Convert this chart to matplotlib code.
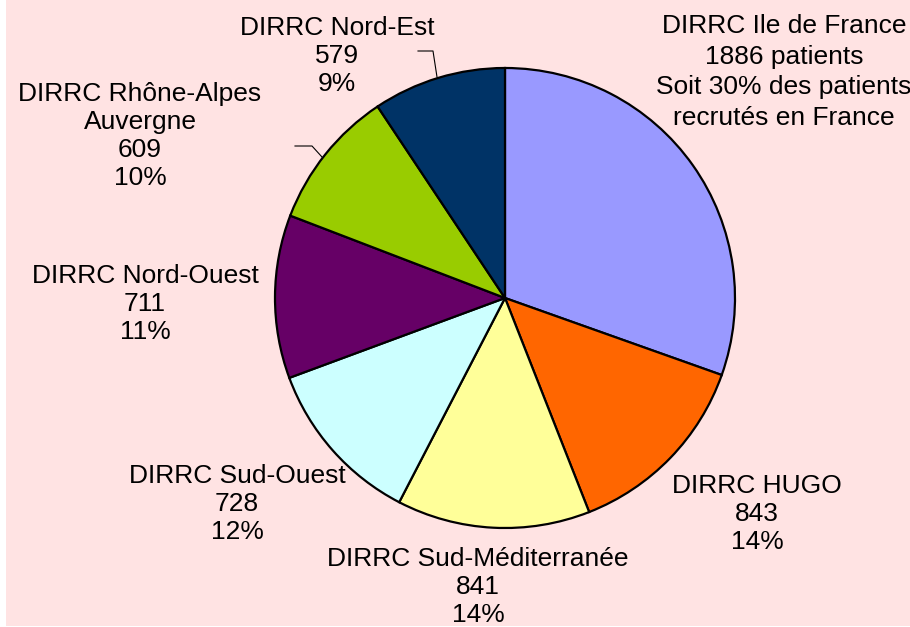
import matplotlib.pyplot as plt
from matplotlib.patches import Rectangle

plt.rcParams["font.family"] = ["Liberation Sans", "DejaVu Sans"]

# data
regions = ["DIRRC Ile de France", "DIRRC HUGO", "DIRRC Sud-Méditerranée",
           "DIRRC Sud-Ouest", "DIRRC Nord-Ouest", "DIRRC Rhône-Alpes\nAuvergne",
           "DIRRC Nord-Est"]
patients = [1886, 843, 841, 728, 711, 609, 579]
colors = ["#9999FF", "#FF6600", "#FFFF99", "#CCFFFF", "#660066", "#99CC00", "#003366"]

W, H = 910, 627
fig = plt.figure(figsize=(W / 100, H / 100), dpi=100)
fig.patch.set_facecolor("white")
ax = fig.add_axes([0, 0, 1, 1])

# pink chart area
ax.add_patch(Rectangle((6, H - 626), W - 6, 626, facecolor="#FFE3E3",
                       edgecolor="none", zorder=0))

def py(y):
    # pixel y (top-down) -> data y
    return H - y

ax.pie(patients, colors=colors, startangle=90, counterclock=False,
       center=(505, py(298)), radius=230, frame=True,
       wedgeprops=dict(edgecolor="black", linewidth=1.6))
ax.set_xlim(0, W)
ax.set_ylim(0, H)
ax.set_aspect("equal")
ax.axis("off")

total = sum(patients)
labels = []
for name, v in zip(regions, patients):
    labels.append("%s\n%d\n%d%%" % (name, v, round(v * 100 / total)))
labels[0] = "DIRRC Ile de France\n%d patients\nSoit %d%% des patients\nrecrutés en France" % (
    patients[0], round(patients[0] * 100 / total))

label_xy = [(784, 72), (757, 514), (478, 587), (237, 504), (145, 304), (140, 136), (337, 56)]
spacing = [1.34, 1.19, 1.19, 1.19, 1.19, 1.2, 1.19]
for txt, (x, y), ls in zip(labels, label_xy, spacing):
    ax.text(x, py(y), txt, ha="center", va="center", multialignment="center",
            fontsize=19, linespacing=ls, color="black", zorder=5)

# leader lines
ax.plot([418, 433, 437], [py(51), py(51), py(77)], color="black", lw=0.8, zorder=4)
ax.plot([295, 312, 322], [py(146), py(146), py(157)], color="black", lw=0.8, zorder=4)

fig.savefig("out.png", dpi=100, facecolor=fig.get_facecolor())
